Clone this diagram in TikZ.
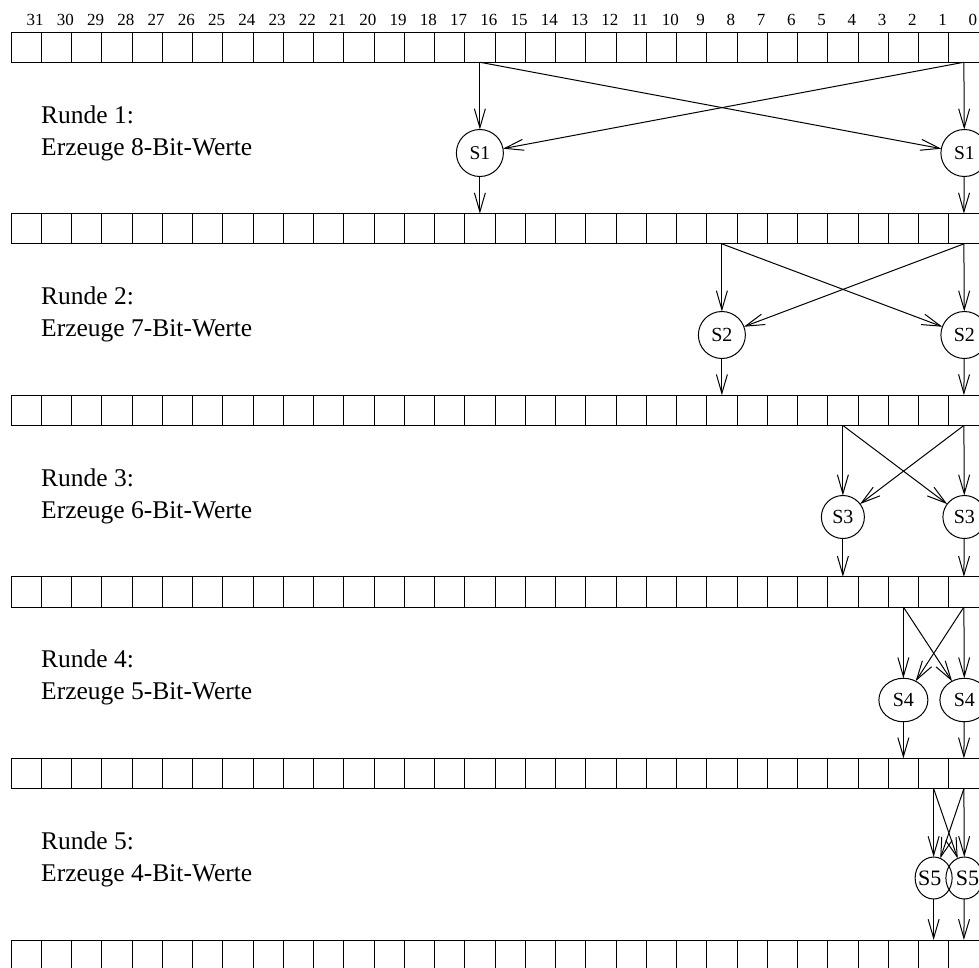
\documentclass[tikz,border=0pt]{standalone}
\usepackage{fontspec}
\setmainfont{Liberation Serif}
\usetikzlibrary{arrows.meta,shapes.geometric}

\tikzset{
    bitcell/.style={draw, line width=1pt, minimum size=30.25pt, inner sep=0pt, outer sep=0pt},
    sbox/.style={draw, ellipse, line width=1pt, inner sep=0pt, outer sep=0pt},
    flow/.style={line width=1pt, -{Straight Barb[length=19pt, width=11pt, line width=1pt]}},
    bitnum/.style={inner sep=0pt, font=\fontsize{17}{17}\selectfont},
    roundtxt/.style={anchor=base west, inner sep=0pt, font=\fontsize{25.5}{32}\selectfont}
}

\begin{document}
\begin{tikzpicture}[x=1pt, y=-1pt]
    \useasboundingbox (0,0) rectangle (979,967);
    \foreach \r in {0,...,5} {
        \foreach \k in {0,...,31} {
            \node[bitcell] (b\r-\k) at ({26.125+(31-\k)*30.25}, {47.125+\r*181.6}) {};
        }
    }
    \foreach \k in {0,...,31}
        \node[bitnum] (n\k) at ({35+(31-\k)*30.25}, 20) {\k};
    \foreach \r/\w/\h/\fs/\cy in {1/47/47/19.5/153, 2/47/47/20/335, 3/43/43/20/517, 4/49/43.5/20/700, 5/37/42/22/878} {
        \pgfmathtruncatemacro{\prev}{\r-1}
        \pgfmathtruncatemacro{\hi}{2^(5-\r)}
        \pgfmathtruncatemacro{\bits}{9-\r}
        \node[roundtxt] (rt\r) at (41, {-58.6+\r*181.6}) {Runde \r:};
        \node[roundtxt] (re\r) at (41, {-26.6+\r*181.6}) {Erzeuge \bits-Bit-Werte};
        \ifnum\r=5
            \node[sbox, minimum width=\w pt, minimum height=\h pt, font=\fontsize{\fs}{\fs}\selectfont] (s\r a) at ({26.125+(31-\hi)*30.25}, \cy) {\makebox[0pt]{\kern-8pt S\r}};
            \node[sbox, minimum width=\w pt, minimum height=\h pt, font=\fontsize{\fs}{\fs}\selectfont] (s\r b) at (964.4, \cy) {\makebox[0pt]{S\r\kern-6pt}};
        \else
            \node[sbox, minimum width=\w pt, minimum height=\h pt, font=\fontsize{\fs}{\fs}\selectfont] (s\r a) at ({26.125+(31-\hi)*30.25}, \cy) {S\r};
            \node[sbox, minimum width=\w pt, minimum height=\h pt, font=\fontsize{\fs}{\fs}\selectfont] (s\r b) at (964.4, \cy) {S\r};
        \fi
        \draw[flow] (b\prev-\hi.south) -- (s\r a);
        \draw[flow] (b\prev-\hi.south) -- (s\r b);
        \draw[flow] (b\prev-0.south) -- (s\r a);
        \draw[flow] (b\prev-0.south) -- (s\r b);
        \draw[flow] (s\r a) -- (b\r-\hi.north);
        \draw[flow] (s\r b) -- (b\r-0.north);
    }
\end{tikzpicture}
\end{document}
